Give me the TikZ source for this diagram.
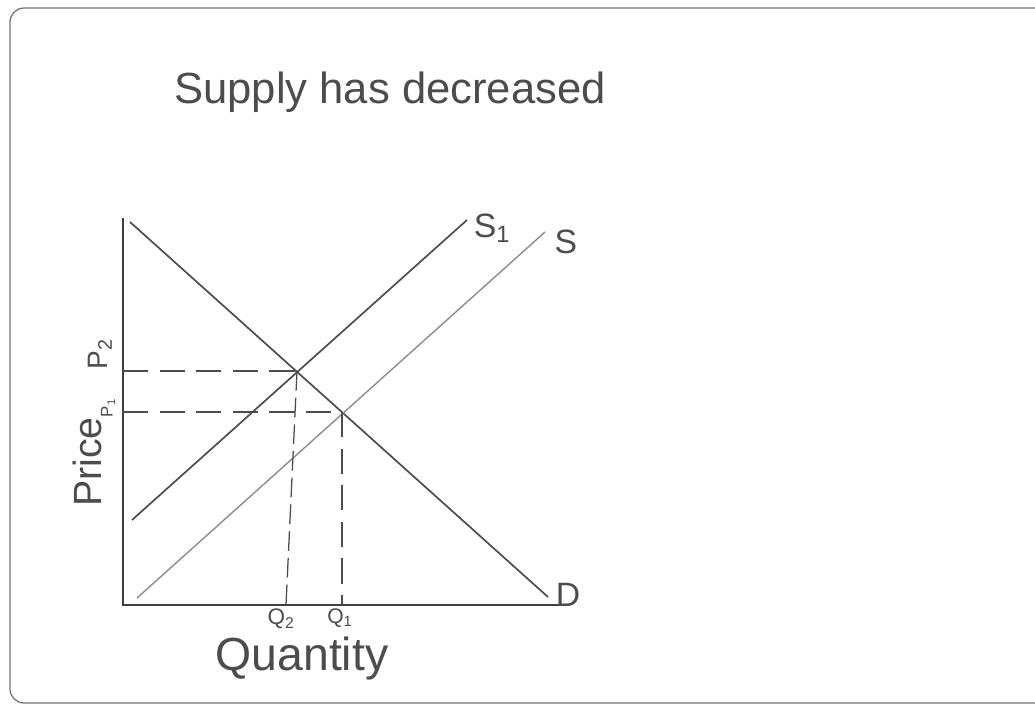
\documentclass[tikz,border=0pt]{standalone}
\usepackage{fontspec}
\setmainfont{Liberation Sans}
\usetikzlibrary{positioning}

\begin{document}
\begin{tikzpicture}[x=0.025cm, y=-0.025cm,
  every node/.style={text=black!70, inner sep=0pt},
  axis/.style={draw=black!75, line width=1.4pt},
  curve/.style={draw=black!70, line width=1.2pt},
  shifted/.style={draw=black!45, line width=1pt},
  guide/.style={draw=black!70, line width=1.3pt, dash pattern=on 18pt off 8pt},
  label/.style={font=\fontsize{24}{28}\selectfont}]
\useasboundingbox (0,0) rectangle (1035,708);
% frame
\draw[black!55, line width=0.9pt, rounded corners=10pt] (1035,8) -- (10,8) -- (10,703) -- (1035,703);

% axes
\coordinate (ytop) at (123,218);
\coordinate (O) at (123,605);
\coordinate (xend) at (560,605);
\draw[axis] (ytop) -- (O) -- (xend);

% curves
\coordinate (dl) at (130,222);
\coordinate (dr) at (548,597);
\coordinate (s1l) at (132,520);
\coordinate (s1r) at (467,220);
\coordinate (sl) at (137,598);
\coordinate (sr) at (545,232);
\draw[curve] (dl) -- (dr);
\draw[curve] (s1l) -- (s1r);
\draw[shifted] (sl) -- (sr);

% equilibria
\coordinate (e2) at (297,371);
\coordinate (e1) at (342,412);
\coordinate (p2) at (123,371);
\coordinate (p1) at (123,412);
\coordinate (q2) at (286,605);
\coordinate (q1) at (342,605);
\draw[guide] (p2) -- (e2);
\draw[guide] (p1) -- (e1);
\draw[guide, line width=0.9pt, dash pattern=on 14pt off 5pt] (e2) -- (q2);
\draw[guide] (e1) -- (q1);

% labels
\node (title) at (390,92) {\fontsize{31}{36}\selectfont Supply has decreased};
\node (labS1) [label] at (492,228) {S\textsubscript{1}};
\node (labS) [label] at (566,242) {S};
\node (labD) [label] at (568,595) {D};
\node (price) [rotate=90, font=\fontsize{28}{32}\selectfont] at (87,462) {Price};
\node (ptwo) [rotate=90, font=\fontsize{20}{24}\selectfont] at (100,354) {P\textsubscript{2}};
\node (pone) [rotate=90, font=\fontsize{12}{14}\selectfont] at (108,408) {P\textsubscript{1}};
\node (qtwo) [font=\fontsize{16}{19}\selectfont] at (281,619) {Q\textsubscript{2}};
\node (qone) [font=\fontsize{15}{18}\selectfont] at (340,618) {Q\textsubscript{1}};
\node (quantity) [font=\fontsize{33}{38}\selectfont] at (302,659) {Quantity};
\end{tikzpicture}
\end{document}
